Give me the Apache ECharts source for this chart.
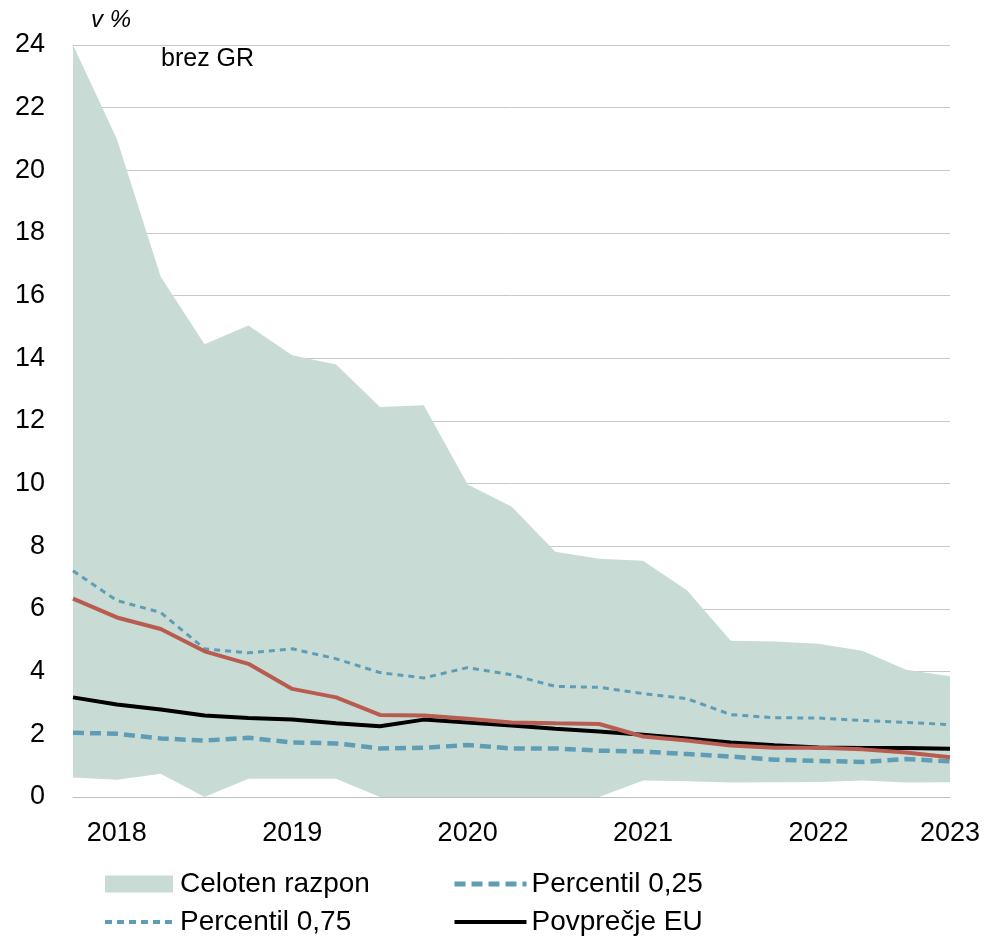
<!DOCTYPE html>
<html>
<head>
<meta charset="utf-8">
<script src="https://cdn.jsdelivr.net/npm/echarts@6/dist/echarts.min.js"></script>
<style>
html,body{margin:0;padding:0;background:#fff;}
#chart{width:987px;height:940px;}
</style>
</head>
<body>
<div id="chart"></div>
<script>
// Periods (quarterly points) and the year tick labels shown under them
const periods = ['P1','P2','P3','P4','P5','P6','P7','P8','P9','P10','P11','P12','P13','P14','P15','P16','P17','P18','P19','P20','P21'];
const yearLabels = ['', '2018', '', '', '', '2019', '', '', '', '2020', '', '', '', '2021', '', '', '', '2022', '', '', '2023'];

// Full range (min / max)
const rangeMax = [24.0, 21.0, 16.6, 14.45, 15.05, 14.1, 13.8, 12.45, 12.5, 9.97, 9.27, 7.83, 7.6, 7.54, 6.6, 4.99, 4.96, 4.89, 4.67, 4.06, 3.85];
const rangeMin = [0.62, 0.55, 0.74, 0, 0.58, 0.58, 0.58, 0, 0, 0, 0, 0, 0, 0.53, 0.5, 0.46, 0.47, 0.48, 0.53, 0.46, 0.47];
// Percentiles
const p75 = [7.22, 6.27, 5.89, 4.73, 4.6, 4.73, 4.41, 3.97, 3.8, 4.13, 3.9, 3.53, 3.5, 3.3, 3.14, 2.63, 2.53, 2.52, 2.44, 2.38, 2.31];
const p25 = [2.05, 2.02, 1.87, 1.8, 1.89, 1.74, 1.71, 1.55, 1.57, 1.66, 1.55, 1.55, 1.48, 1.45, 1.37, 1.29, 1.19, 1.15, 1.12, 1.21, 1.14];
// EU average
const euAvg = [3.18, 2.95, 2.79, 2.6, 2.52, 2.47, 2.35, 2.26, 2.47, 2.38, 2.28, 2.18, 2.09, 1.99, 1.87, 1.74, 1.65, 1.58, 1.56, 1.56, 1.54];
// Slovenia (red line, not in legend)
const slovenia = [6.33, 5.73, 5.36, 4.65, 4.25, 3.45, 3.18, 2.62, 2.6, 2.5, 2.38, 2.35, 2.33, 1.93, 1.8, 1.64, 1.57, 1.57, 1.52, 1.42, 1.27];

const FONT = '"Liberation Sans", Arial, sans-serif';
const AREA = '#c8dcd5';
const BLUE = '#5e9db5';
const RED = '#b95c50';

const rangeSpan = rangeMax.map((v, i) => +(v - rangeMin[i]).toFixed(3));
const hideSym = {opacity: 0};

const chart = echarts.init(document.getElementById('chart'), null, {renderer: 'canvas'});
chart.setOption({
  animation: false,
  backgroundColor: '#fff',
  title: [
    {text: 'v %', left: 91, top: 8, padding: 0, textStyle: {fontFamily: FONT, fontSize: 24, fontStyle: 'italic', fontWeight: 'normal', color: '#000'}},
    {text: 'brez GR', left: 161, top: 47, padding: 0, textStyle: {fontFamily: FONT, fontSize: 25, fontWeight: 'normal', color: '#000'}}
  ],
  grid: {left: 73, right: 37, top: 45, bottom: 143, containLabel: false},
  xAxis: {
    type: 'category',
    data: periods,
    boundaryGap: false,
    axisLine: {show: true, lineStyle: {color: '#bfbfbf', width: 1}},
    axisTick: {show: false},
    axisLabel: {
      interval: 0,
      margin: 23,
      fontFamily: FONT, fontSize: 27, color: '#000',
      formatter: (v, i) => yearLabels[i]
    },
    splitLine: {show: false}
  },
  yAxis: {
    type: 'value',
    min: 0, max: 24, interval: 2,
    axisLine: {show: false},
    axisTick: {show: false},
    axisLabel: {margin: 28, fontFamily: FONT, fontSize: 27, color: '#000'},
    splitLine: {show: true, lineStyle: {color: '#c8c8c8', width: 1}}
  },
  legend: [
    {
      orient: 'vertical', left: 103, top: 869, height: 80, padding: 0,
      itemWidth: 68, itemHeight: 17, itemGap: 8,
      textStyle: {fontFamily: FONT, fontSize: 28, color: '#000', lineHeight: 30, padding: [0, 0, 0, 2]},
      data: [
        {name: 'Celoten razpon', icon: 'rect'},
        {name: 'Percentil 0,75', itemStyle: hideSym, lineStyle: {width: 4, type: [7, 5]}}
      ]
    },
    {
      orient: 'vertical', left: 452, top: 869, height: 80, padding: 0,
      itemWidth: 72, itemHeight: 17, itemGap: 8,
      textStyle: {fontFamily: FONT, fontSize: 28, color: '#000', lineHeight: 30, padding: 0},
      data: [
        {name: 'Percentil 0,25', itemStyle: hideSym, lineStyle: {width: 5, type: [11, 6]}},
        {name: 'Povprečje EU', itemStyle: hideSym, lineStyle: {width: 4}}
      ]
    }
  ],
  series: [
    {
      name: 'base', type: 'line', stack: 'range', data: rangeMin,
      symbol: 'none', lineStyle: {width: 0, opacity: 0}, silent: true
    },
    {
      name: 'Celoten razpon', type: 'line', stack: 'range', data: rangeSpan,
      symbol: 'none', lineStyle: {width: 0, opacity: 0},
      itemStyle: {color: AREA},
      areaStyle: {color: AREA, opacity: 1}
    },
    {
      name: 'Percentil 0,75', type: 'line', data: p75, symbol: 'none',
      itemStyle: {color: BLUE},
      lineStyle: {color: BLUE, width: 3, type: [6, 5]}
    },
    {
      name: 'Percentil 0,25', type: 'line', data: p25, symbol: 'none',
      itemStyle: {color: BLUE},
      lineStyle: {color: BLUE, width: 4.5, type: [11, 6]}
    },
    {
      name: 'Povprečje EU', type: 'line', data: euAvg, symbol: 'none',
      itemStyle: {color: '#000'},
      lineStyle: {color: '#000', width: 4}
    },
    {
      name: 'Slovenija', type: 'line', data: slovenia, symbol: 'none',
      itemStyle: {color: RED},
      lineStyle: {color: RED, width: 4}
    }
  ]
});
</script>
</body>
</html>
